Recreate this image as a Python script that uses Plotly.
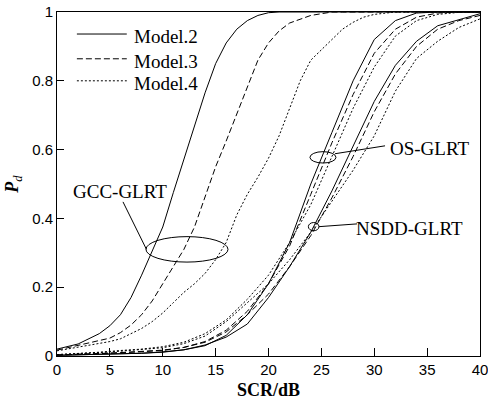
import plotly.graph_objects as go

# ---- data ----
scr_gcc = [0, 2, 4, 5, 6, 7, 8, 9, 10, 11, 12, 13, 14, 15, 16, 17, 18, 19, 20,
           21, 22, 23, 24, 25, 26, 27, 28, 29, 30, 32, 34, 36, 38, 40]
gcc_m2 = [0.02, 0.035, 0.065, 0.088, 0.12, 0.17, 0.235, 0.305, 0.375, 0.475, 0.57,
          0.665, 0.765, 0.85, 0.91, 0.95, 0.975, 0.99, 0.998, 1, 1, 1, 1, 1, 1, 1, 1,
          1, 1, 1, 1, 1, 1, 1]
gcc_m3 = [0.017, 0.03, 0.045, 0.052, 0.068, 0.09, 0.12, 0.16, 0.21, 0.26, 0.31,
          0.375, 0.46, 0.55, 0.625, 0.705, 0.785, 0.86, 0.91, 0.945, 0.968, 0.98,
          0.99, 0.995, 1, 1, 1, 1, 1, 1, 1, 1, 1, 1]
gcc_m4 = [0.015, 0.025, 0.035, 0.042, 0.05, 0.065, 0.08, 0.1, 0.125, 0.155, 0.185,
          0.21, 0.24, 0.28, 0.33, 0.41, 0.47, 0.52, 0.575, 0.64, 0.72, 0.8, 0.86,
          0.89, 0.92, 0.95, 0.97, 0.985, 0.993, 1, 1, 1, 1, 1]

scr = [0, 2, 4, 6, 8, 10, 12, 14, 16, 18, 20, 22, 24, 26, 28, 30, 32, 34, 36, 38, 40]
os_m2 = [0.002, 0.003, 0.005, 0.006, 0.008, 0.012, 0.018, 0.03, 0.06, 0.12, 0.21,
         0.33, 0.5, 0.65, 0.8, 0.92, 0.975, 0.997, 1, 1, 1]
os_m3 = [0.003, 0.004, 0.007, 0.01, 0.013, 0.017, 0.025, 0.042, 0.075, 0.13, 0.21,
         0.32, 0.47, 0.62, 0.76, 0.88, 0.95, 0.985, 0.997, 1, 1]
os_m4 = [0.004, 0.007, 0.011, 0.016, 0.02, 0.027, 0.04, 0.065, 0.105, 0.165, 0.235,
         0.33, 0.44, 0.58, 0.72, 0.84, 0.93, 0.975, 0.993, 0.999, 1]
nsdd_m2 = [0.002, 0.003, 0.004, 0.006, 0.008, 0.011, 0.018, 0.032, 0.055, 0.093, 0.17,
           0.26, 0.36, 0.48, 0.61, 0.74, 0.845, 0.915, 0.96, 0.978, 0.995]
nsdd_m3 = [0.003, 0.004, 0.007, 0.009, 0.012, 0.016, 0.025, 0.04, 0.07, 0.12, 0.18,
           0.26, 0.35, 0.46, 0.58, 0.71, 0.82, 0.9, 0.95, 0.975, 0.99]
nsdd_m4 = [0.004, 0.006, 0.01, 0.014, 0.018, 0.024, 0.036, 0.058, 0.1, 0.155, 0.21,
           0.28, 0.36, 0.45, 0.54, 0.64, 0.77, 0.865, 0.915, 0.955, 0.98]

model_names = ["Model.2", "Model.3", "Model.4"]
x_ticks = [0, 5, 10, 15, 20, 25, 30, 35, 40]
y_ticks = [0, 0.2, 0.4, 0.6, 0.8, 1]
y_tick_labels = ["0", "0.2", "0.4", "0.6", "0.8", "1"]

# ---- styles ----
DASHES = ["solid", "6px,3px", "2px,2px"]
SERIF = "Liberation Serif, Times New Roman, serif"
SANS = "Liberation Sans, Arial, sans-serif"

fig = go.Figure()
groups = [
    (scr_gcc, [gcc_m2, gcc_m3, gcc_m4], "GCC-GLRT"),
    (scr, [os_m2, os_m3, os_m4], "OS-GLRT"),
    (scr, [nsdd_m2, nsdd_m3, nsdd_m4], "NSDD-GLRT"),
]
for xs, series, gname in groups:
    for k, ys in enumerate(series):
        fig.add_trace(go.Scatter(
            x=xs, y=ys, mode="lines", name=f"{gname} {model_names[k]}",
            line=dict(color="black", width=1, dash=DASHES[k]),
            showlegend=False, hoverinfo="skip"))

shapes = []
annotations = []

# manual legend (paper coordinates)
leg_y = [0.936, 0.864, 0.800]
for k in range(3):
    shapes.append(dict(type="line", xref="paper", yref="paper",
                       x0=0.047, x1=0.165, y0=leg_y[k], y1=leg_y[k],
                       line=dict(color="black", width=1, dash=DASHES[k])))
    annotations.append(dict(xref="paper", yref="paper", x=0.178, y=leg_y[k] - 0.007,
                            text=model_names[k], showarrow=False, xanchor="left",
                            yanchor="middle",
                            font=dict(family=SERIF, size=19, color="black")))

# ellipses and callouts
ellipses = [(8.41, 16.17, 0.273, 0.347), (23.92, 26.38, 0.561, 0.594),
            (23.77, 24.77, 0.364, 0.388)]
for x0, x1, y0, y1 in ellipses:
    shapes.append(dict(type="circle", xref="x", yref="y", x0=x0, x1=x1, y0=y0, y1=y1,
                       line=dict(color="black", width=1)))
leaders = [(6.24, 0.448, 8.46, 0.31), (26.29, 0.588, 31.02, 0.611),
           (24.77, 0.376, 28.37, 0.384)]
for x0, y0, x1, y1 in leaders:
    shapes.append(dict(type="line", xref="x", yref="y", x0=x0, x1=x1, y0=y0, y1=y1,
                       line=dict(color="black", width=1)))
labels = [(6.0, 0.479, "GCC-GLRT"), (35.27, 0.602, "OS-GLRT"),
          (33.38, 0.3715, "NSDD-GLRT")]
for x, y, t in labels:
    annotations.append(dict(x=x, y=y, xref="x", yref="y", text=t, showarrow=False,
                            xanchor="center", yanchor="middle",
                            font=dict(family=SERIF, size=19, color="black")))

fig.update_layout(
    width=488, height=400, autosize=False,
    margin=dict(l=57, r=8, t=12, b=44),
    paper_bgcolor="white", plot_bgcolor="white",
    shapes=shapes, annotations=annotations,
    xaxis=dict(range=[0, 40], tickvals=x_ticks, ticks="inside", ticklen=8,
               tickcolor="black", showline=True, linecolor="black", linewidth=1,
               mirror=True, showgrid=False, zeroline=False, automargin=False,
               ticklabeloverflow="allow",
               tickfont=dict(family=SANS, size=15, color="black"),
               title=dict(text="<b>SCR/dB</b>", standoff=14,
                          font=dict(family=SERIF, size=18, color="black"))),
    yaxis=dict(range=[0, 1], tickvals=y_ticks, ticktext=y_tick_labels,
               ticks="inside", ticklen=7, tickcolor="black",
               showline=True, linecolor="black", linewidth=1, mirror=True,
               showgrid=False, zeroline=False, automargin=False,
               ticklabeloverflow="allow",
               tickfont=dict(family=SANS, size=15, color="black"),
               title=dict(text="<b><i>P</i></b><sub><i>d</i></sub>", standoff=8,
                          font=dict(family=SERIF, size=18, color="black"))),
)

fig.write_html("out.html",
               config={"displayModeBar": False},
               post_script="document.body.style.margin='0';"
                           "document.body.style.overflow='hidden';")
